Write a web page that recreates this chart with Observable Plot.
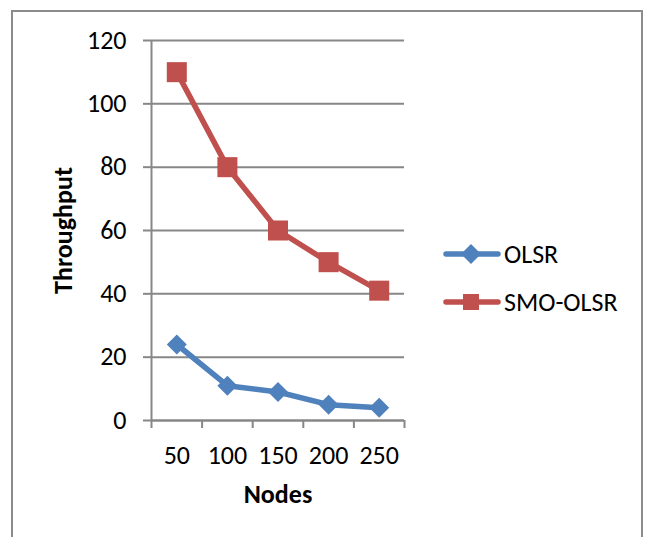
<!DOCTYPE html>
<html>
<head>
<meta charset="utf-8">
<script src="https://cdn.jsdelivr.net/npm/d3@7"></script>
<script src="https://cdn.jsdelivr.net/npm/@observablehq/plot@0.6"></script>
<style>
  html, body { margin: 0; padding: 0; background: #fff; }
  #wrap { position: relative; width: 646px; height: 537px; overflow: hidden; font-family: Carlito, "Open Sans", sans-serif; }
  #frame { position: absolute; left: 11px; top: 10px; width: 632px; height: 560px; border: 2px solid #8c8c8c; box-sizing: border-box; }
  #chart { position: absolute; left: 0; top: 0; }
  #legend { position: absolute; left: 443px; top: 240px; font-size: 26px; line-height: 28px; color: #000; }
  .item { display: flex; align-items: center; height: 28px; margin-bottom: 20px; }
  .item svg { margin-right: 3px; }
</style>
</head>
<body>
<div id="wrap">
  <div id="frame"></div>
  <div id="chart"></div>
  <div id="legend"></div>
</div>
<script>
const categories = ["50", "100", "150", "200", "250"];
const olsr = [24, 11, 9, 5, 4];
const smoOlsr = [110, 80, 60, 50, 41];
const yTicks = [0, 20, 40, 60, 80, 100, 120];
const seriesNames = ["OLSR", "SMO-OLSR"];
const seriesColors = ["#4F81BD", "#C0504D"];
const seriesSymbols = ["diamond2", "square"];

const data = [];
categories.forEach((c, i) => {
  data.push({series: "OLSR", idx: i + 0.5, value: olsr[i]});
  data.push({series: "SMO-OLSR", idx: i + 0.5, value: smoOlsr[i]});
});
const catData = categories.map((c, i) => ({label: c, idx: i + 0.5}));
const boundaries = d3.range(categories.length + 1);

const font = 'Carlito, "Open Sans", sans-serif';
const gray = "#878787";

const chart = Plot.plot({
  width: 646,
  height: 537,
  marginLeft: 151,
  marginRight: 242,
  marginTop: 40,
  marginBottom: 117,
  style: {fontFamily: font, background: "transparent", overflow: "visible"},
  x: {type: "linear", domain: [0, categories.length], axis: null},
  y: {domain: [0, 120], axis: null},
  color: {domain: seriesNames, range: seriesColors},
  marks: [
    Plot.gridY(yTicks, {stroke: gray, strokeOpacity: 1, strokeWidth: 2}),
    Plot.axisY(yTicks, {tickSize: 8, tickPadding: 17, stroke: gray, strokeWidth: 2, fill: "#000", fontSize: 26, label: null}),
    Plot.axisX(boundaries, {tickSize: 8, tickFormat: () => "", stroke: gray, strokeWidth: 2, label: null}),
    Plot.ruleX([0], {stroke: gray, strokeWidth: 2}),
    Plot.ruleY([0], {stroke: gray, strokeWidth: 2}),
    Plot.text(catData, {x: "idx", y: 0, text: "label", dy: 43, fontSize: 26, fill: "#000", frameAnchor: "bottom"}),
    Plot.line(data, {x: "idx", y: "value", z: "series", stroke: "series", strokeWidth: 5.5}),
    Plot.dot(data.filter(d => d.series === "OLSR"), {x: "idx", y: "value", symbol: () => seriesSymbols[0], fill: seriesColors[0], r: 9, stroke: "none"}),
    Plot.dot(data.filter(d => d.series === "SMO-OLSR"), {x: "idx", y: "value", symbol: () => seriesSymbols[1], fill: seriesColors[1], r: 11.3, stroke: "none"}),
    Plot.text(["Nodes"], {frameAnchor: "bottom", dy: 82, fontSize: 26, fontWeight: "bold", fill: "#000"}),
    Plot.text(["Throughput"], {frameAnchor: "left", textAnchor: "middle", dx: -88, rotate: -90, fontSize: 26, fontWeight: "bold", fill: "#000"})
  ]
});
document.getElementById("chart").appendChild(chart);

const legend = document.getElementById("legend");
seriesNames.forEach((name, k) => {
  const item = document.createElement("div");
  item.className = "item";
  const svg = d3.create("svg").attr("width", 58).attr("height", 24);
  svg.append("line").attr("x1", 3).attr("x2", 55).attr("y1", 12).attr("y2", 12)
    .attr("stroke", seriesColors[k]).attr("stroke-width", 5.5).attr("stroke-linecap", "round");
  const sym = k === 0 ? d3.symbolDiamond2 : d3.symbolSquare;
  const size = Math.PI * 9 * 9;
  svg.append("path").attr("transform", "translate(28,12)")
    .attr("d", d3.symbol(sym, size)()).attr("fill", seriesColors[k]);
  item.appendChild(svg.node());
  const t = document.createElement("span");
  t.textContent = name;
  item.appendChild(t);
  legend.appendChild(item);
});
</script>
</body>
</html>
